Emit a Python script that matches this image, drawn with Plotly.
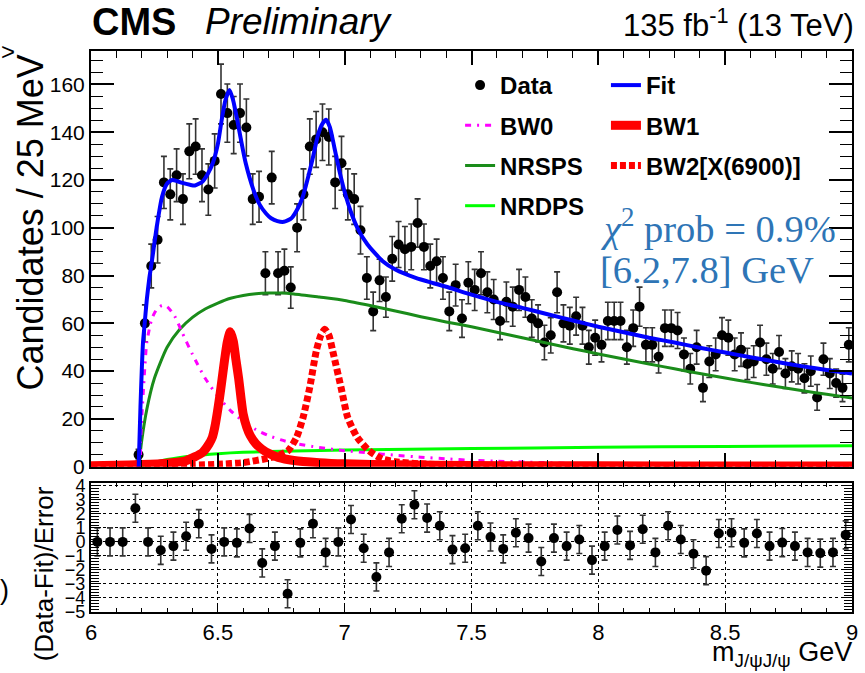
import numpy as np
import plotly.graph_objects as go

# ---------------- data ----------------
# J/psi J/psi invariant mass, 25 MeV bins (bin centres in GeV), first populated bin at 6.1875
mass_bins = [round(6.1875 + 0.025 * i, 4) for i in range(113)]
counts = [
    5, 60, 84, 95, 119, 114, 122, 112, 132, 134,
    122, 116, 128, 156, 148, 143, 148, 142, 112, 113,
    81, 121, 81, 82, 75, 100, 114, 134, 137, 140,
    138, 119, 127, 114, 112, 99, 79, 65, 78, 71,
    87, 93, 91, 92, 102, 92, 84, 86, 79, 65,
    76, 62, 77, 74, 81, 73, 70, 61, 69, 67,
    74, 71, 62, 60, 52, 55, 73, 60, 59, 63,
    59, 50, 54, 51, 61, 61, 61, 50, 58, 67,
    51, 51, 46, 58, 58, 57, 47, 41, 50, 33,
    44, 47, 55, 54, 47, 49, 43, 44, 52, 45,
    41, 48, 39, 42, 41, 37, 40, 29, 45, 39,
    35, 33, 51,
]

# pulls (Data-Fit)/Error in 50 MeV bins
pull_bins = [round(6.025 + 0.05 * k, 3) for k in range(60)]
pulls = [
    0, 0, 0, 2.4, 0, -0.6, -0.3, 0.4, 1.3, -0.5,
    0, -0.07, 0.96, -1.5, -0.3, -3.7, -0.07, 1.3, -0.75, 0,
    1.6, -0.45, -2.5, -0.75, 1.65, 2.65, 1.7, 1.15, -0.55, -0.45,
    1.15, 0.35, -0.5, 0.65, 0.27, -1.4, 0.27, -0.3, 0.17, -1.3,
    -0.3, 0.85, -0.25, 0.9, -0.75, 1.15, 0.17, -0.85, -2.05, 0.6,
    0.65, -0.07, 0.6, -0.3, -0.05, -0.3, -0.75, -0.8, -0.75, 0.5,
]
pull_errors = [1.0] * len(pulls)

# fit model and its components, (mass, candidates per bin)
fit_curve = [
    (6.188, 0), (6.195, 25), (6.2, 40), (6.205, 52), (6.21, 58), (6.22, 70), (6.23, 79),
    (6.24, 86), (6.26, 101), (6.28, 113), (6.3, 118.5), (6.32, 120), (6.34, 119.5),
    (6.36, 118.8), (6.39, 118), (6.41, 117.7), (6.44, 119.4), (6.46, 122.5), (6.48, 127),
    (6.5, 135), (6.515, 145), (6.53, 153.5), (6.546, 157.7), (6.56, 153.5), (6.575, 146),
    (6.59, 137.5), (6.61, 127), (6.64, 116), (6.665, 109.7), (6.69, 106), (6.71, 104),
    (6.735, 102.8), (6.76, 102.5), (6.79, 104), (6.816, 108.3), (6.835, 113), (6.855, 120.8),
    (6.875, 129.5), (6.895, 138.9), (6.912, 143.5), (6.927, 145.2), (6.942, 142),
    (6.96, 133.3), (6.98, 123.5), (7.0, 115), (7.025, 106.5), (7.05, 100), (7.09, 93),
    (7.15, 86), (7.2, 82.5), (7.28, 79), (7.35, 76.8), (7.41, 75), (7.5, 72), (7.6, 69),
    (7.7, 66.5), (7.8, 63.8), (7.9, 61.2), (8.0, 58.6), (8.1, 56.3), (8.2, 54), (8.3, 52),
    (8.4, 49.8), (8.5, 47.8), (8.6, 45.8), (8.7, 43.9), (8.8, 42.1), (8.9, 40.5), (9.0, 39),
]
bw0_curve = [
    (6.0, 0), (6.188, 0), (6.195, 10), (6.2, 20), (6.21, 38), (6.22, 52), (6.24, 62),
    (6.26, 66), (6.28, 67.5), (6.3, 67), (6.33, 63), (6.36, 56), (6.4, 47), (6.45, 37),
    (6.5, 29.5), (6.55, 23.5), (6.6, 19), (6.65, 15.5), (6.7, 13), (6.75, 11.2), (6.8, 9.8),
    (6.9, 8), (7.0, 6.7), (7.1, 5.7), (7.2, 4.8), (7.3, 4.0), (7.4, 3.3), (7.5, 2.7),
    (7.6, 2.3), (7.7, 2.0), (7.8, 1.7), (7.9, 1.4), (8.0, 1.2), (8.25, 0.9), (8.5, 0.7),
    (8.75, 0.5), (9.0, 0.4),
]
bw1_curve = [
    (6.0, 0.4), (6.1, 0.6), (6.2, 0.9), (6.3, 1.5), (6.374, 2.5), (6.44, 6.0), (6.465, 9.5),
    (6.478, 12.2), (6.488, 16.5), (6.497, 22), (6.507, 29), (6.517, 37), (6.527, 45),
    (6.537, 52), (6.549, 56.5), (6.561, 52.5), (6.571, 45), (6.582, 37), (6.591, 29),
    (6.6, 22), (6.614, 16.5), (6.628, 13), (6.65, 9.6), (6.673, 7.4), (6.7, 5.6),
    (6.738, 3.9), (6.8, 2.6), (6.9, 1.7), (7.0, 1.2), (7.2, 0.8), (7.5, 0.5), (8.0, 0.35),
    (8.5, 0.3), (9.0, 0.25),
]
bw2_curve = [
    (6.0, 0.2), (6.2, 0.3), (6.4, 0.6), (6.5, 1.0), (6.6, 1.7), (6.7, 3.6), (6.745, 5.0),
    (6.777, 6.7), (6.81, 12.2), (6.836, 20.6), (6.862, 33), (6.888, 48.4), (6.906, 55),
    (6.922, 57.5), (6.938, 55), (6.953, 48.4), (6.986, 33), (7.012, 20.6), (7.05, 12.2),
    (7.096, 6.7), (7.148, 3.2), (7.2, 2.1), (7.3, 1.2), (7.5, 0.6), (8.0, 0.3),
    (8.5, 0.25), (9.0, 0.2),
]
nrsps_curve = [
    (6.188, 0), (6.2, 11), (6.22, 24), (6.25, 37), (6.3, 50), (6.35, 57.5), (6.4, 62.5),
    (6.45, 66), (6.5, 68.5), (6.55, 70.5), (6.6, 71.7), (6.65, 72.4), (6.7, 72.7),
    (6.75, 72.7), (6.8, 72.3), (6.9, 71), (7.0, 69.6), (7.1, 67.5), (7.2, 65.2), (7.3, 62.8),
    (7.4, 60.6), (7.5, 58.6), (7.6, 56.3), (7.7, 54), (7.8, 51.7), (7.9, 49.4), (8.0, 47.2),
    (8.1, 45.1), (8.2, 43), (8.3, 41), (8.4, 39), (8.5, 37.1), (8.6, 35.3), (8.7, 33.6),
    (8.8, 31.9), (8.9, 30.3), (9.0, 28.8),
]
nrdps_curve = [
    (6.188, 0), (6.25, 1.8), (6.3, 3.0), (6.4, 4.5), (6.5, 5.4), (6.6, 6.0), (6.8, 6.6),
    (7.0, 7.0), (7.5, 7.6), (8.0, 8.1), (8.5, 8.5), (9.0, 8.8),
]

# ---------------- helpers ----------------
W, H = 865, 673
ML, MR, MT, MB = 91, 7, 51, 61
PW, PH = W - ML - MR, H - MT - MB


def px_x(p):
    return (p - ML) / PW


def px_y(p):
    return (H - MB - p) / PH


def unzip(curve):
    return [c[0] for c in curve], [c[1] for c in curve]


FONT = "Liberation Sans, Arial, sans-serif"
SERIF = "Liberation Serif, Times New Roman, serif"

fig = go.Figure()

# data points
fig.add_trace(go.Scatter(
    x=mass_bins, y=counts, mode="markers", name="Data",
    marker=dict(color="black", size=10),
    error_y=dict(type="data", array=np.sqrt(counts), color="#333333", thickness=1.6, width=3),
    xaxis="x", yaxis="y", legend="legend", legendgroup="data", legendrank=1,
))


def add_curve(curve, name, color, width, dash, legend, rank):
    xs, ys = unzip(curve)
    fig.add_trace(go.Scatter(
        x=xs, y=ys, mode="lines", name=name,
        line=dict(color=color, width=width, dash=dash, shape="spline", smoothing=0.6),
        xaxis="x", yaxis="y", legend=legend, legendgroup=name, legendrank=rank,
    ))


add_curve(nrdps_curve, "NRDPS", "#00ff00", 3, "solid", "legend", 4)
add_curve(nrsps_curve, "NRSPS", "#1a8c1a", 3, "solid", "legend", 3)
add_curve(bw0_curve, "BW0", "#ff00ff", 3, "6px,6px,2px,6px", "legend", 2)
add_curve(bw2_curve, "BW2[X(6900)]", "#ff0000", 7, "6px,3px", "legend2", 3)
add_curve(bw1_curve, "BW1", "#ff0000", 9, "solid", "legend2", 2)
add_curve(fit_curve, "Fit", "#0000ff", 4, "solid", "legend2", 1)

# pulls
fig.add_trace(go.Scatter(
    x=pull_bins, y=pulls, mode="markers", showlegend=False,
    marker=dict(color="black", size=10),
    error_y=dict(type="data", array=pull_errors, color="#333333", thickness=1.6, width=3),
    xaxis="x2", yaxis="y2",
))

axis_common = dict(
    showline=True, linecolor="black", linewidth=2, mirror="ticks",
    ticks="inside", tickcolor="black", zeroline=False,
)

fig.update_layout(
    width=W, height=H,
    margin=dict(l=ML, r=MR, t=MT, b=MB),
    paper_bgcolor="white", plot_bgcolor="white",
    font=dict(family=FONT, color="black"),
    xaxis=dict(
        domain=[0, 1], range=[6, 9], anchor="y", dtick=0.5, tick0=6,
        ticklen=14, tickwidth=1.5, showticklabels=False, showgrid=False,
        minor=dict(dtick=0.1, ticklen=7, tickwidth=1, ticks="inside", tickcolor="black"),
        **axis_common,
    ),
    yaxis=dict(
        domain=[px_y(466.7), 1], range=[0, 174], anchor="x", dtick=20, tick0=0,
        ticklen=23, tickwidth=1.5, showgrid=False,
        tickfont=dict(size=21),
        minor=dict(dtick=5, ticklen=12, tickwidth=1, ticks="inside", tickcolor="black"),
        **axis_common,
    ),
    xaxis2=dict(
        domain=[0, 1], range=[6, 9], anchor="y2", dtick=0.5, tick0=6,
        ticklen=8, tickwidth=1.2, tickfont=dict(size=22), ticklabelstandoff=0,
        showgrid=True, gridcolor="black", griddash="dot", gridwidth=1,
        minor=dict(dtick=0.1, ticklen=4, tickwidth=1, ticks="inside", tickcolor="black"),
        **axis_common,
    ),
    yaxis2=dict(
        domain=[0, px_y(483)], range=[-5, 4.2], anchor="x2", dtick=1, tick0=0,
        ticklen=10, tickwidth=1.2, tickfont=dict(size=18),
        showgrid=True, gridcolor="black", griddash="dot", gridwidth=1,
        minor=dict(dtick=0.2, ticklen=8, tickwidth=1, ticks="inside", tickcolor="black"),
        **axis_common,
    ),
    legend=dict(
        x=px_x(463), y=px_y(63), xanchor="left", yanchor="top",
        bgcolor="rgba(0,0,0,0)", font=dict(size=24, family=FONT, weight="bold"),
        tracegroupgap=6, itemwidth=30,
    ),
    legend2=dict(
        x=px_x(610), y=px_y(63), xanchor="left", yanchor="top",
        bgcolor="rgba(0,0,0,0)", font=dict(size=24, family=FONT, weight="bold"),
        tracegroupgap=6, itemwidth=30,
    ),
)

annotations = [
    dict(text="<b>CMS</b>", x=px_x(90), y=px_y(22), xanchor="left", yanchor="middle",
         font=dict(size=38)),
    dict(text="<i>Preliminary</i>", x=px_x(204), y=px_y(22), xanchor="left", yanchor="middle",
         font=dict(size=37)),
    dict(text="135 fb<sup>-1</sup> (13 TeV)", x=px_x(862), y=px_y(23), xanchor="right",
         yanchor="middle", font=dict(size=31)),
    dict(text="<i>χ</i><sup>2</sup> prob = 0.9%", x=px_x(602), y=px_y(226), xanchor="left",
         yanchor="middle", font=dict(size=38.5, family=SERIF, color="#2e75b6")),
    dict(text="[6.2,7.8] GeV", x=px_x(602), y=px_y(270), xanchor="left", yanchor="middle",
         font=dict(size=38.5, family=SERIF, color="#2e75b6")),
    dict(text="Candidates / 25 MeV", x=px_x(30), y=px_y(222), xanchor="center",
         yanchor="middle", textangle=-90, font=dict(size=36)),
    dict(text="(Data-Fit)/Error", x=px_x(44), y=px_y(574), xanchor="center",
         yanchor="middle", textangle=-90, font=dict(size=26)),
    dict(text="m<sub>J/ψJ/ψ</sub> GeV", x=px_x(860), y=px_y(654), xanchor="right",
         yanchor="middle", font=dict(size=27)),
    dict(text=">", x=px_x(7), y=px_y(51), xanchor="center", yanchor="middle",
         font=dict(size=24)),
    dict(text=")", x=px_x(4), y=px_y(590), xanchor="center", yanchor="middle",
         font=dict(size=27)),
]
for a in annotations:
    a.update(xref="paper", yref="paper", showarrow=False)
fig.update_layout(annotations=annotations)

fig.write_html("out.html")
